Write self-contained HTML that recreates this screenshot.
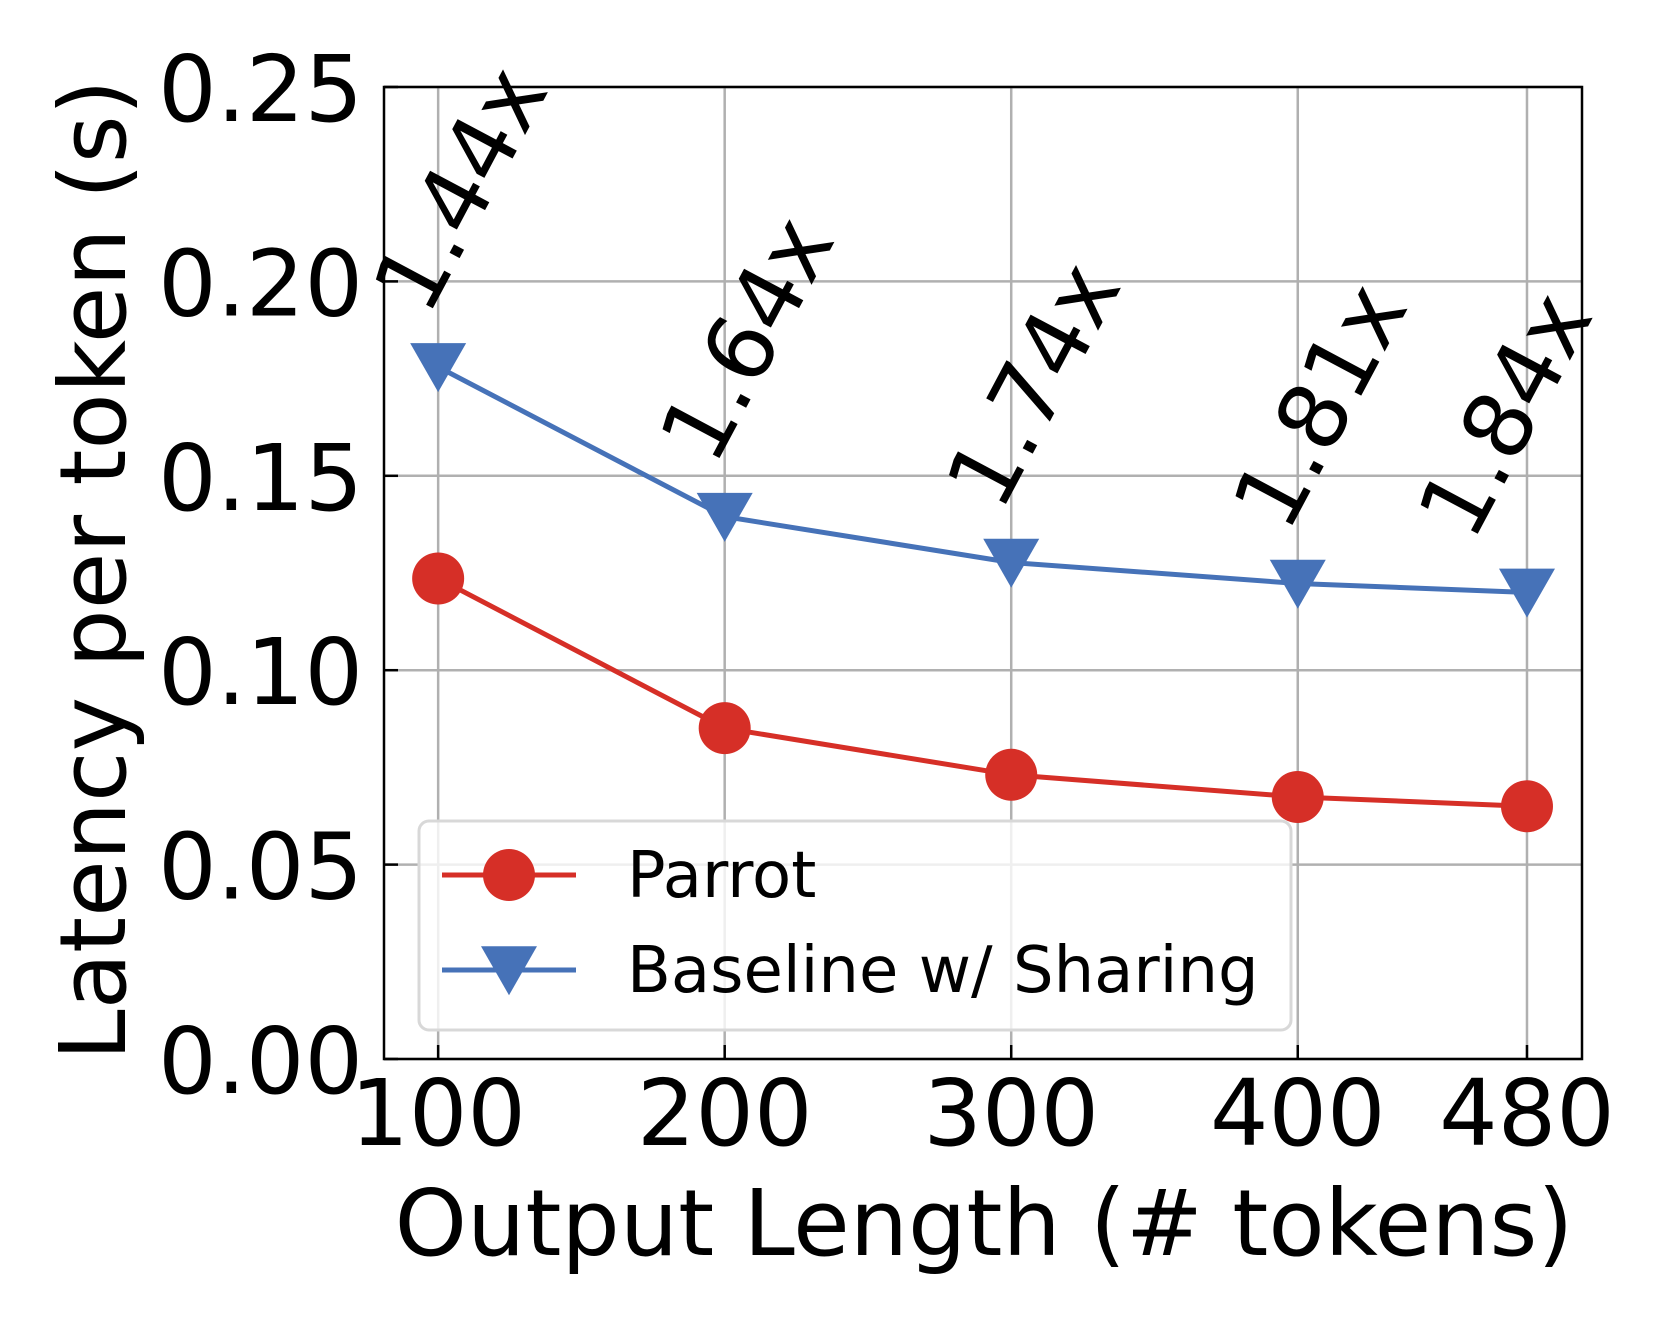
<!DOCTYPE html>
<html><head><meta charset="utf-8"><style>
html,body{margin:0;padding:0;background:#fff;}
svg{display:block;font-family:"DejaVu Sans","Liberation Sans",sans-serif;}
</style></head><body>
<svg id="chart" width="1661" height="1329" viewBox="0 0 1661 1329" xmlns="http://www.w3.org/2000/svg">
<rect width="1661" height="1329" fill="#fff"/>
<g id="grid"></g>
<g id="series"></g>
<g id="annots"></g>
<g id="axes"></g>
<g id="legend"></g>
</svg>
<script>
const categories = [100, 200, 300, 400, 480];
const parrotValues = [0.1236, 0.0851, 0.0731, 0.0674, 0.0650];
const baselineValues = [0.178, 0.1395, 0.1277, 0.1223, 0.120];
const speedupLabels = ["1.44x", "1.64x", "1.74x", "1.81x", "1.84x"];
const yTicks = [0, 0.05, 0.10, 0.15, 0.20, 0.25];
const yTickLabels = ["0.00", "0.05", "0.10", "0.15", "0.20", "0.25"];

const L = 384, R = 1582, T = 87, B = 1059;
const xMin = 81.1, xMax = 499.2, yMin = 0, yMax = 0.25;
const NS = "http://www.w3.org/2000/svg";
function xs(v){ return L + (v - xMin) / (xMax - xMin) * (R - L); }
function ys(v){ return B - (v - yMin) / (yMax - yMin) * (B - T); }
function mk(tag, attrs, parent){
  const e = document.createElementNS(NS, tag);
  for (const k in attrs) e.setAttribute(k, attrs[k]);
  parent.appendChild(e); return e;
}
const grid = document.getElementById('grid');
const series = document.getElementById('series');
const annots = document.getElementById('annots');
const axes = document.getElementById('axes');
const legend = document.getElementById('legend');

categories.forEach((c, i) => {
  const x = xs(c);
  const g = mk('line', {x1:x, x2:x, y1:T, y2:B, stroke:'#b0b0b0', 'stroke-width':2.5}, grid);
  
  
  const tk = mk('line', {x1:x, x2:x, y1:B, y2:B-14, stroke:'#000', 'stroke-width':2.5}, axes);
  
  
  const t = mk('text', {x:x, y:1145, 'font-size':92, 'text-anchor':'middle', fill:'#000'}, axes);
  t.textContent = String(c);
  
  
});
yTicks.forEach((v, i) => {
  const y = ys(v);
  const g = mk('line', {x1:L, x2:R, y1:y, y2:y, stroke:'#b0b0b0', 'stroke-width':2.5}, grid);
  
  
  const tk = mk('line', {x1:L, x2:L+14, y1:y, y2:y, stroke:'#000', 'stroke-width':2.5}, axes);
  
  
  const t = mk('text', {x:363, y:y+34, 'font-size':92, 'text-anchor':'end', fill:'#000'}, axes);
  t.textContent = yTickLabels[i];
  
  
});
const frame = mk('rect', {x:L, y:T, width:R-L, height:B-T, fill:'none', stroke:'#000', 'stroke-width':2.5}, axes);



const xl = mk('text', {x:984, y:1255, 'font-size':92, 'text-anchor':'middle', fill:'#000'}, axes);
xl.textContent = 'Output Length (# tokens)';


const yl = mk('text', {x:0, y:0, 'font-size':92, 'text-anchor':'middle', fill:'#000', transform:'translate(125,570) rotate(-90)'}, axes);
yl.textContent = 'Latency per token (s)';



function tri(cx, cy, s){ return `${cx-s},${cy-s*0.85} ${cx+s},${cy-s*0.85} ${cx},${cy+s*0.9}`; }

const red = '#d62f27', blue = '#4672b8';
const pl = mk('polyline', {points: categories.map((c,i)=>xs(c)+','+ys(parrotValues[i])).join(' '), fill:'none', stroke:red, 'stroke-width':5}, series);


const bl = mk('polyline', {points: categories.map((c,i)=>xs(c)+','+ys(baselineValues[i])).join(' '), fill:'none', stroke:blue, 'stroke-width':5}, series);


categories.forEach((c, i) => {
  const p = mk('circle', {cx:xs(c), cy:ys(parrotValues[i]), r:26, fill:red}, series);
  
  
  const b = mk('polygon', {points: tri(xs(c), ys(baselineValues[i]), 28), fill:blue}, series);
  
  
  const dx = (i === categories.length - 1) ? -22 : 22;
  const cx = xs(c) + dx, cy = ys(baselineValues[i]) - 178;
  const a = mk('text', {x:0, y:32, 'font-size':92, 'text-anchor':'middle', fill:'#000', transform:`translate(${cx},${cy}) rotate(-62)`}, annots);
  a.textContent = speedupLabels[i];
  
  
});

const lb = mk('rect', {x:419, y:821, width:872, height:209, rx:10, fill:'#fff', 'fill-opacity':0.8, stroke:'#d8d8d8', 'stroke-width':3}, legend);


const l1 = mk('line', {x1:442, x2:576, y1:875, y2:875, stroke:red, 'stroke-width':5}, legend);


const m1 = mk('circle', {cx:509, cy:875, r:26, fill:red}, legend);


const t1 = mk('text', {x:627, y:897, 'font-size':64, fill:'#000'}, legend);
t1.textContent = 'Parrot';


const l2 = mk('line', {x1:442, x2:576, y1:970, y2:970, stroke:blue, 'stroke-width':5}, legend);


const m2 = mk('polygon', {points: tri(509, 970, 28), fill:blue}, legend);


const t2 = mk('text', {x:627, y:992, 'font-size':64, fill:'#000'}, legend);
t2.textContent = 'Baseline w/ Sharing';


</script>
</body></html>
